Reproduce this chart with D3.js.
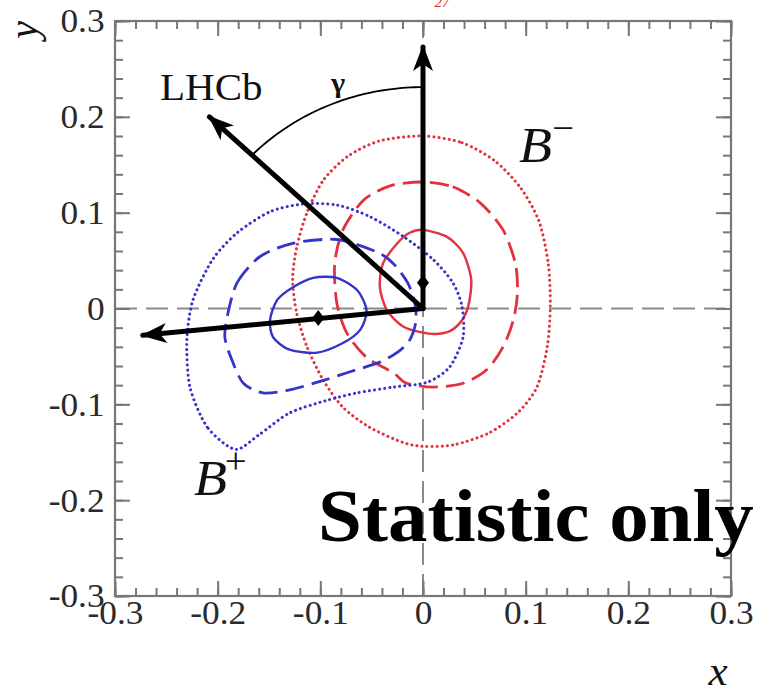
<!DOCTYPE html>
<html>
<head>
<meta charset="utf-8">
<script src="https://cdn.jsdelivr.net/npm/d3@7"></script>
<style>
  html, body { margin: 0; padding: 0; background: #fff; }
  svg { display: block; }
  text { font-family: "Liberation Serif", "Times New Roman", serif; }
</style>
</head>
<body>
<svg id="chart" width="758" height="691"></svg>
<script>
// Axis ranges and tick labels
const xDomain = [-0.3, 0.3];
const yDomain = [-0.3, 0.3];
const majorTicks = [-0.3, -0.2, -0.1, 0, 0.1, 0.2, 0.3];
const tickLabels = ["-0.3", "-0.2", "-0.1", "0", "0.1", "0.2", "0.3"];
const minorTicks = d3.range(-15, 16).map(i => i / 50);

// B- confidence contours (x, y)
const bMinusSolid = [
  [0.000, 0.082], [0.023, 0.075], [0.039, 0.058], [0.047, 0.030], [0.044, 0.002],
  [0.036, -0.015], [0.023, -0.025], [0.004, -0.026], [-0.019, -0.019], [-0.035, -0.002],
  [-0.042, 0.022], [-0.039, 0.047], [-0.025, 0.068], [-0.013, 0.079]
];
const bMinusDashed = [
  [0.000, 0.132], [0.029, 0.127], [0.056, 0.110], [0.078, 0.082], [0.090, 0.047],
  [0.092, 0.016], [0.088, -0.012], [0.078, -0.040], [0.062, -0.064], [0.039, -0.078],
  [0.010, -0.082], [-0.016, -0.078], [-0.029, -0.067], [-0.055, -0.051], [-0.074, -0.026],
  [-0.084, 0.006], [-0.086, 0.047], [-0.078, 0.082], [-0.058, 0.113], [-0.032, 0.128]
];
const bMinusDotted = [
  [0.000, 0.180], [0.038, 0.173], [0.070, 0.154], [0.095, 0.126], [0.113, 0.091],
  [0.122, 0.047], [0.124, 0.002], [0.121, -0.040], [0.111, -0.082], [0.092, -0.109],
  [0.064, -0.130], [0.031, -0.142], [0.002, -0.144], [-0.019, -0.140], [-0.052, -0.124],
  [-0.078, -0.103], [-0.097, -0.075], [-0.113, -0.040], [-0.123, -0.005], [-0.127, 0.030],
  [-0.123, 0.064], [-0.113, 0.100], [-0.097, 0.134], [-0.073, 0.159], [-0.042, 0.175]
];

// B+ confidence contours (x, y)
const bPlusSolid = [
  [-0.149, -0.012], [-0.142, 0.009], [-0.127, 0.022], [-0.107, 0.032], [-0.084, 0.032],
  [-0.064, 0.019], [-0.055, -0.002], [-0.061, -0.022], [-0.078, -0.036], [-0.103, -0.046],
  [-0.130, -0.043], [-0.146, -0.030]
];
const bPlusDashed = [
  [-0.190, -0.005], [-0.181, 0.027], [-0.159, 0.054], [-0.127, 0.068], [-0.084, 0.072],
  [-0.045, 0.059], [-0.029, 0.047], [-0.015, 0.027], [-0.008, 0.006], [-0.007, -0.014],
  [-0.013, -0.033], [-0.024, -0.045], [-0.042, -0.056], [-0.071, -0.066], [-0.097, -0.075],
  [-0.130, -0.085], [-0.156, -0.088], [-0.175, -0.078], [-0.186, -0.054], [-0.193, -0.030]
];
const bPlusDotted = [
  [-0.183, -0.147], [-0.210, -0.124], [-0.227, -0.082], [-0.230, -0.033], [-0.224, 0.009],
  [-0.205, 0.051], [-0.181, 0.079], [-0.149, 0.101], [-0.117, 0.109], [-0.084, 0.108],
  [-0.052, 0.096], [-0.019, 0.075], [0.010, 0.051], [0.029, 0.027], [0.038, 0.002],
  [0.039, -0.030], [0.026, -0.061], [0.004, -0.077], [-0.029, -0.082], [-0.064, -0.088],
  [-0.094, -0.096], [-0.130, -0.109], [-0.160, -0.132]
];

// Arrows from the origin: tip positions and central-value markers
const arrowTips = [[0, 0.273], [-0.208, 0.200], [-0.273, -0.028]];
const centralPoints = [[0, 0.027], [-0.102, -0.010]];
// gamma angle arc: start and end angles (degrees) and radius
const gammaArc = { radius: 0.231, from: 90, to: 136 };

const red = "#e2323f";
const blue = "#3434c8";

const svg = d3.select("#chart");
svg.append("rect").attr("width", 758).attr("height", 691).attr("fill", "#fff");

const x = d3.scaleLinear().domain(xDomain).range([115, 731]);
const y = d3.scaleLinear().domain(yDomain).range([596, 21]);

// zero reference lines
svg.append("line")
  .attr("x1", x(xDomain[0])).attr("x2", x(xDomain[1]))
  .attr("y1", y(0)).attr("y2", y(0))
  .attr("stroke", "#8a8a8a").attr("stroke-width", 2).attr("stroke-dasharray", "22,9");
svg.append("line")
  .attr("x1", x(0)).attr("x2", x(0))
  .attr("y1", y(yDomain[0])).attr("y2", y(yDomain[1]))
  .attr("stroke", "#8a8a8a").attr("stroke-width", 2).attr("stroke-dasharray", "22,9");

// contours
const contour = d3.line().x(d => x(d[0])).y(d => y(d[1])).curve(d3.curveCardinalClosed.tension(0.2));
const contours = [
  { pts: bMinusDotted, color: red, dash: "0.1,5", w: 3, cap: "round" },
  { pts: bMinusDashed, color: red, dash: "19,8", w: 2.8, cap: "butt" },
  { pts: bMinusSolid, color: red, dash: null, w: 2.4, cap: "butt" },
  { pts: bPlusDotted, color: blue, dash: "0.1,5", w: 3, cap: "round" },
  { pts: bPlusDashed, color: blue, dash: "19,8", w: 2.8, cap: "butt" },
  { pts: bPlusSolid, color: blue, dash: null, w: 2.4, cap: "butt" }
];
svg.append("g").selectAll("path").data(contours).join("path")
  .attr("d", d => contour(d.pts))
  .attr("fill", "none")
  .attr("stroke", d => d.color)
  .attr("stroke-width", d => d.w)
  .attr("stroke-linecap", d => d.cap)
  .attr("stroke-dasharray", d => d.dash);

// arrowhead marker
svg.append("defs").append("marker")
  .attr("id", "head")
  .attr("markerUnits", "userSpaceOnUse")
  .attr("viewBox", "0 -11 26 22")
  .attr("refX", 24).attr("refY", 0)
  .attr("markerWidth", 26).attr("markerHeight", 22)
  .attr("orient", "auto")
  .append("path")
  .attr("d", "M0,-10 L26,0 L0,10 L7,0 Z")
  .attr("fill", "#000");

svg.append("g").selectAll("line").data(arrowTips).join("line")
  .attr("x1", x(0)).attr("y1", y(0))
  .attr("x2", d => x(d[0])).attr("y2", d => y(d[1]))
  .attr("stroke", "#000").attr("stroke-width", 5)
  .attr("stroke-linecap", "round")
  .attr("marker-end", "url(#head)");

svg.append("g").selectAll("path").data(centralPoints).join("path")
  .attr("transform", d => `translate(${x(d[0])},${y(d[1])})`)
  .attr("d", "M0,-8 L6,0 L0,8 L-6,0 Z")
  .attr("fill", "#000");

// gamma arc
const arcPts = d3.range(gammaArc.from, gammaArc.to + 0.5, 1).map(a => [
  gammaArc.radius * Math.cos(a * Math.PI / 180),
  gammaArc.radius * Math.sin(a * Math.PI / 180)
]);
svg.append("path")
  .attr("d", d3.line().x(d => x(d[0])).y(d => y(d[1]))(arcPts))
  .attr("fill", "none").attr("stroke", "#000").attr("stroke-width", 1.8);

// frame and ticks
const frameColor = "#777";
function styleAxis(g) {
  g.select(".domain").remove();
  g.selectAll("line").attr("stroke", frameColor).attr("stroke-width", 2);
}
svg.append("g").attr("transform", `translate(0,${y(-0.3)})`)
  .call(d3.axisBottom(x).tickValues(minorTicks).tickSize(-8).tickFormat("")).call(styleAxis);
svg.append("g").attr("transform", `translate(0,${y(0.3)})`)
  .call(d3.axisTop(x).tickValues(minorTicks).tickSize(-8).tickFormat("")).call(styleAxis);
svg.append("g").attr("transform", `translate(${x(-0.3)},0)`)
  .call(d3.axisLeft(y).tickValues(minorTicks).tickSize(-8).tickFormat("")).call(styleAxis);
svg.append("g").attr("transform", `translate(${x(0.3)},0)`)
  .call(d3.axisRight(y).tickValues(minorTicks).tickSize(-8).tickFormat("")).call(styleAxis);

const bottomAx = svg.append("g").attr("transform", `translate(0,${y(-0.3)})`)
  .call(d3.axisBottom(x).tickValues(majorTicks).tickSize(-15).tickPadding(4)
    .tickFormat((d, i) => tickLabels[i])).call(styleAxis);
svg.append("g").attr("transform", `translate(0,${y(0.3)})`)
  .call(d3.axisTop(x).tickValues(majorTicks).tickSize(-15).tickFormat("")).call(styleAxis);
const leftAx = svg.append("g").attr("transform", `translate(${x(-0.3)},0)`)
  .call(d3.axisLeft(y).tickValues(majorTicks).tickSize(-15).tickPadding(10)
    .tickFormat((d, i) => tickLabels[i])).call(styleAxis);
svg.append("g").attr("transform", `translate(${x(0.3)},0)`)
  .call(d3.axisRight(y).tickValues(majorTicks).tickSize(-15).tickFormat("")).call(styleAxis);

[bottomAx, leftAx].forEach(g => g.selectAll("text")
  .attr("font-family", "Liberation Serif, serif")
  .attr("font-size", 34)
  .attr("fill", "#2a2a2a")
  .attr("transform", "scale(1.04,1)"));

svg.append("rect")
  .attr("x", x(-0.3)).attr("y", y(0.3))
  .attr("width", x(0.3) - x(-0.3)).attr("height", y(-0.3) - y(0.3))
  .attr("fill", "none").attr("stroke", frameColor).attr("stroke-width", 2.2);

// text annotations
function label(txt, px, py, size, opts = {}) {
  const t = svg.append("text")
    .attr("transform", `translate(${px},${py}) scale(1.08,1)` + (opts.rotate ? ` rotate(${opts.rotate})` : ""))
    .attr("font-size", size)
    .attr("fill", opts.fill || "#111")
    .attr("font-style", opts.italic ? "italic" : null)
    .attr("font-weight", opts.bold ? "bold" : null)
    .attr("text-anchor", opts.anchor || "start")
    .text(txt);
  return t;
}
label("x", 718, 685, 40, { italic: true, anchor: "middle" });
label("y", 37, 30, 40, { italic: true, anchor: "middle", rotate: -90 });
label("LHCb", 160, 100, 38);
label("γ", 338, 92, 28, { bold: true, anchor: "middle" });

const bm = label("B", 519, 162, 50, { italic: true });
bm.append("tspan").attr("font-size", 36).attr("font-style", "normal").attr("dy", -22).text("−");
const bp = label("B", 194, 495, 50, { italic: true });
bp.append("tspan").attr("font-size", 36).attr("font-style", "normal").attr("dx", -2).attr("dy", -22).text("+");

label("Statistic only", 318, 541, 73, { bold: true, fill: "#000" });
label("27", 442, 7, 14, { italic: true, anchor: "middle", fill: "#e8231c" });
</script>
</body>
</html>
